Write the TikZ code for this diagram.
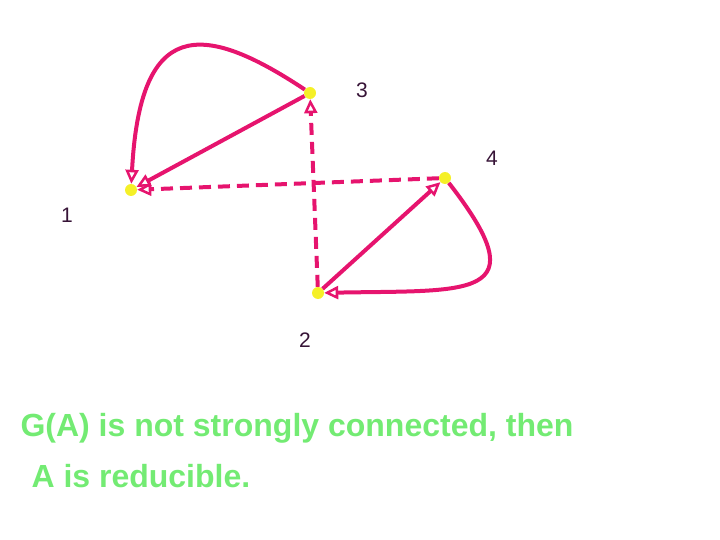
\documentclass[tikz,border=0pt]{standalone}
\usepackage{fontspec}
\setmainfont{Liberation Sans}
\usetikzlibrary{arrows.meta}
\definecolor{edgepink}{RGB}{230,20,110}
\definecolor{dotyellow}{RGB}{245,240,40}
\definecolor{labelpurple}{RGB}{55,20,55}
\definecolor{textgreen}{RGB}{115,235,115}
\begin{document}
\begin{tikzpicture}[x=1pt, y=-1pt,
  vertex/.style={shape=circle, fill=dotyellow, inner sep=0pt, minimum size=12pt},
  vlabel/.style={text=labelpurple, font=\fontsize{21}{24}\selectfont},
  link/.style={draw=edgepink, line width=4pt, -{Triangle[open,length=14pt,width=13pt,line width=2.5pt]}},
  dlink/.style={link, dash pattern=on 12pt off 7pt},
  caption/.style={anchor=base west, text=textgreen, font=\fontsize{32}{36}\selectfont\bfseries}]
\useasboundingbox (0,0) rectangle (720,540);

\node [vertex] (N3) at (310,93) {};
\node [vertex] (N4) at (445,178) {};
\node [vertex] (N1) at (131,190) {};
\node [vertex] (N2) at (318,293) {};

\node [vlabel] (L3) at (362,90) {3};
\node [vlabel] (L4) at (492,158) {4};
\node [vlabel] (L1) at (67,215) {1};
\node [vlabel] (L2) at (305,340) {2};

\draw [link] (N3) -- (N1);
\draw [link] (N3) .. controls (200,20) and (140,20) .. (N1);
\draw [dlink] (N4) -- (N1);
\draw [dlink] (N2) -- (N3);
\draw [link] (N2) -- (N4);
\draw [link] (N4) .. controls (540,300) and (470,290) .. (N2);

\node [caption] (T1) at (17,436) {G(A) is not strongly connected, then};
\node [caption] (T2) at (28,487) {A is reducible.};
\end{tikzpicture}
\end{document}
